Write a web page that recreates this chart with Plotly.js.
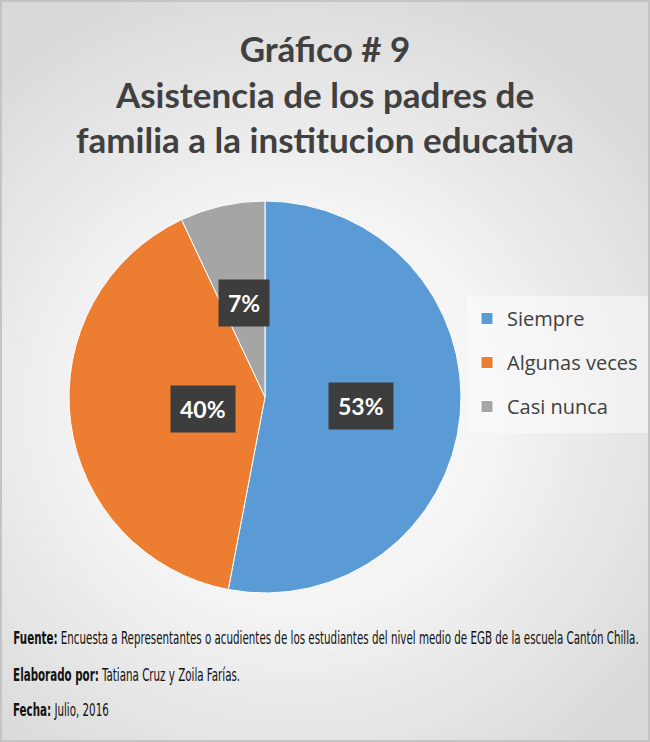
<!DOCTYPE html>
<html>
<head>
<meta charset="utf-8">
<script src="https://cdn.plot.ly/plotly-3.0.1.min.js"></script>
<style>
  html, body { margin: 0; padding: 0; }
  #wrap {
    position: relative; width: 650px; height: 742px; box-sizing: border-box;
    border: 2px solid #c4c4c4;
    background: radial-gradient(ellipse 70% 60% at 45% 55%, #ffffff 0%, #f4f4f4 45%, #d9d9d9 100%);
  }
  #chart { position: absolute; left: -2px; top: -2px; width: 650px; height: 742px; }
</style>
</head>
<body>
<div id="wrap"><div id="chart"></div></div>
<script>
const categories = ["Siempre", "Algunas veces", "Casi nunca"];
const values = [53, 40, 7];
const sliceColors = ["#5B9BD5", "#ED7D31", "#A5A5A5"];
const titleLines = ["Gráfico # 9", "Asistencia de los padres de", "familia a la institucion educativa"];
const footLines = [
  ["Fuente:", " Encuesta a Representantes o acudientes de los estudiantes del nivel medio de EGB de la escuela Cantón Chilla."],
  ["Elaborado por:", " Tatiana Cruz y Zoila Farías."],
  ["Fecha:", " Julio, 2016"]
];

const W = 650, H = 742;
const cxPx = 265, cyPx = 397, R = 196;
const domX = [(cxPx - R) / W, (cxPx + R) / W];
const domY = [(H - cyPx - R) / H, (H - cyPx + R) / H];

const total = values.reduce((a, b) => a + b, 0);
const annotations = [];
let cum = 0;
values.forEach((v, i) => {
  const mid = (cum + v / 2) / total * 2 * Math.PI;
  cum += v;
  const rr = 0.49 * R;
  const px = cxPx + rr * Math.sin(mid);
  const py = cyPx - rr * Math.cos(mid);
  annotations.push({
    x: px / W, y: 1 - py / H, xref: "paper", yref: "paper",
    text: "<b>" + Math.round(v / total * 100) + "%</b>",
    showarrow: false, bgcolor: "#3d3d3d", borderpad: 9,
    font: { family: "Lato, 'Open Sans', sans-serif", size: 23, color: "#ffffff" }
  });
});

const footY = [638, 675, 710];
const footStart = annotations.length;
footLines.forEach((ln, i) => {
  annotations.push({
    x: 11 / W, y: 1 - footY[i] / H, xref: "paper", yref: "paper",
    xanchor: "left", yanchor: "middle", showarrow: false,
    text: "<b>" + ln[0] + "</b>" + ln[1],
    font: { family: "'DejaVu Sans Condensed', 'Liberation Sans Narrow', sans-serif", size: 17, color: "#111111" }
  });
});

const data = [{
  type: "pie",
  labels: categories,
  values: values,
  sort: false,
  direction: "clockwise",
  rotation: 0,
  marker: { colors: sliceColors, line: { color: "#ffffff", width: 1 } },
  textinfo: "none",
  domain: { x: domX, y: domY },
  hoverinfo: "label+percent"
}];

const layout = {
  width: W, height: H,
  margin: { l: 0, r: 0, t: 0, b: 0 },
  paper_bgcolor: "rgba(0,0,0,0)",
  plot_bgcolor: "rgba(0,0,0,0)",
  title: {
    text: "<b>" + titleLines.join("<br>") + "</b>",
    x: 0.5, xanchor: "center", y: 1 - 62 / H, yanchor: "top",
    font: { family: "Lato, 'Open Sans', sans-serif", size: 35, color: "#404040" }
  },
  showlegend: true,
  legend: {
    x: 467 / W, xanchor: "left", y: 1 - 296 / H, yanchor: "top",
    bgcolor: "rgba(255,255,255,0.45)",
    font: { family: "'Open Sans', Lato, sans-serif", size: 20, color: "#404040" },
    itemwidth: 30
  },
  annotations: annotations
};

Plotly.newPlot("chart", data, layout, { displayModeBar: false, staticPlot: true }).then(gd => {
  // widen the spacing between legend entries to match the reference
  const step = 44;
  const items = gd.querySelectorAll(".legend .traces");
  let first = null;
  items.forEach((el, i) => {
    const m = /translate\(([-\d.]+),\s*([-\d.]+)\)/.exec(el.getAttribute("transform") || "");
    if (!m) return;
    if (first === null) first = parseFloat(m[2]) + 3;
    el.setAttribute("transform", "translate(" + m[1] + "," + (first + i * step) + ")");
  });
  const h = first + (items.length - 1) * step + 26;
  const bg = gd.querySelector(".legend .bg");
  if (bg && first !== null) { bg.setAttribute("height", h); bg.setAttribute("width", 650 - 2 - 467); }
  gd.querySelectorAll(".legend [clip-path]").forEach(el => el.removeAttribute("clip-path"));
  document.querySelectorAll("clipPath[id^='legend'] rect").forEach(r => r.setAttribute("height", h + 20));

  // condense the source lines horizontally, like the narrow font of the reference
  const annGroups = gd.querySelectorAll(".annotation");
  const footTexts = [];
  annGroups.forEach(g => {
    const idx = parseInt(g.getAttribute("data-index"), 10);
    if (idx >= footStart) { const t = g.querySelector("text"); if (t) footTexts.push(t); }
  });
  if (footTexts.length) {
    const bb0 = footTexts[0].getBBox();
    const s = Math.min(1, 626 / bb0.width);
    footTexts.forEach(t => {
      const bb = t.getBBox();
      t.setAttribute("transform", "translate(" + bb.x + ",0) scale(" + s + ",1) translate(" + (-bb.x) + ",0)");
    });
  }
});
</script>
</body>
</html>
